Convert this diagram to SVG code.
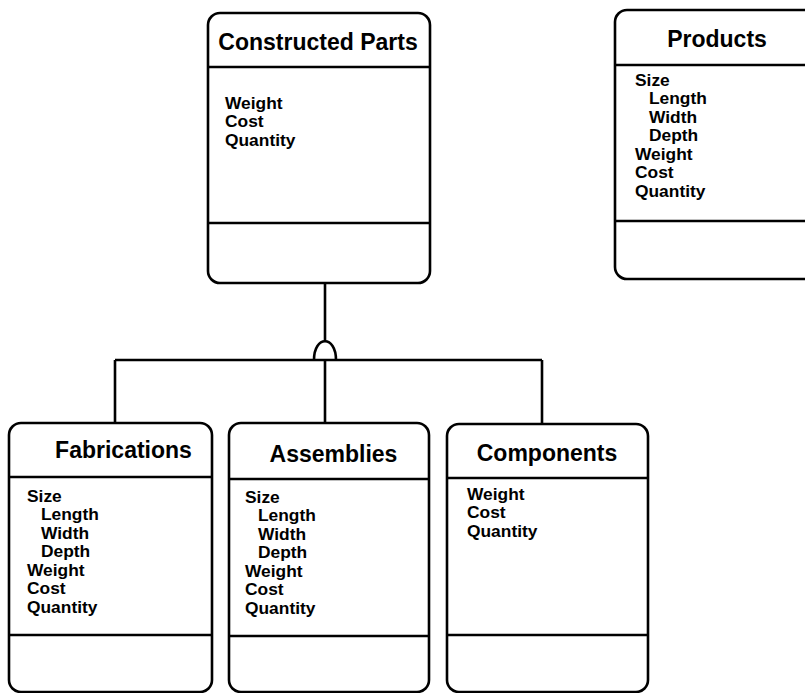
<svg xmlns="http://www.w3.org/2000/svg" width="805" height="693" viewBox="0 0 805 693">
  <style>
    .box { fill: #fff; stroke: #000; stroke-width: 2.6; }
    .div { stroke: #000; stroke-width: 2.6; }
    .conn { fill: none; stroke: #000; stroke-width: 2.6; }
    .title { font-family: "Liberation Sans", Arial, Helvetica, sans-serif; font-weight: bold; font-size: 23px; text-anchor: middle; fill: #000; }
    .attr { font-family: "Liberation Sans", Arial, Helvetica, sans-serif; font-weight: bold; font-size: 15.8px; fill: #000; }
  </style>
  <rect width="805" height="693" fill="#fff"/>

  <!-- generalization connectors -->
  <g id="connectors">
    <line class="conn" x1="325" y1="283" x2="325" y2="341"/>
    <path class="conn" d="M314,360 C314,335 336,335 336,360"/>
    <line class="conn" x1="115" y1="360" x2="542" y2="360"/>
    <line class="conn" x1="115" y1="360" x2="115" y2="423"/>
    <line class="conn" x1="325" y1="360" x2="325" y2="423"/>
    <line class="conn" x1="542" y1="360" x2="542" y2="424"/>
  </g>

  <g id="constructed-parts">
    <rect class="box" x="208" y="13" width="222" height="270" rx="12"/>
    <line class="div" x1="208" y1="67" x2="430" y2="67"/>
    <line class="div" x1="208" y1="223" x2="430" y2="223"/>
    <text class="title" x="318" y="50">Constructed Parts</text>
    <g transform="translate(225,109) scale(1.1,1)">
      <text class="attr" x="0" y="0">Weight</text>
      <text class="attr" x="0" y="18.3">Cost</text>
      <text class="attr" x="0" y="36.6">Quantity</text>
    </g>
  </g>

  <g id="products">
    <rect class="box" x="615" y="10" width="240" height="269" rx="12"/>
    <line class="div" x1="615" y1="65" x2="855" y2="65"/>
    <line class="div" x1="615" y1="221" x2="855" y2="221"/>
    <text class="title" x="717" y="47">Products</text>
    <g transform="translate(635,86) scale(1.1,1)">
      <text class="attr" x="0" y="0">Size</text>
      <text class="attr" x="12.7" y="18.5">Length</text>
      <text class="attr" x="12.7" y="37">Width</text>
      <text class="attr" x="12.7" y="55.5">Depth</text>
      <text class="attr" x="0" y="74">Weight</text>
      <text class="attr" x="0" y="92.5">Cost</text>
      <text class="attr" x="0" y="111">Quantity</text>
    </g>
  </g>

  <g id="fabrications">
    <rect class="box" x="9" y="423" width="203" height="269" rx="12"/>
    <line class="div" x1="9" y1="477" x2="212" y2="477"/>
    <line class="div" x1="9" y1="635" x2="212" y2="635"/>
    <text class="title" x="123.5" y="458">Fabrications</text>
    <g transform="translate(27,502) scale(1.1,1)">
      <text class="attr" x="0" y="0">Size</text>
      <text class="attr" x="12.7" y="18.5">Length</text>
      <text class="attr" x="12.7" y="37">Width</text>
      <text class="attr" x="12.7" y="55.5">Depth</text>
      <text class="attr" x="0" y="74">Weight</text>
      <text class="attr" x="0" y="92.5">Cost</text>
      <text class="attr" x="0" y="111">Quantity</text>
    </g>
  </g>

  <g id="assemblies">
    <rect class="box" x="229" y="423" width="200" height="269" rx="12"/>
    <line class="div" x1="229" y1="479" x2="429" y2="479"/>
    <line class="div" x1="229" y1="636" x2="429" y2="636"/>
    <text class="title" x="333.5" y="462">Assemblies</text>
    <g transform="translate(245,503) scale(1.1,1)">
      <text class="attr" x="0" y="0">Size</text>
      <text class="attr" x="11.8" y="18.5">Length</text>
      <text class="attr" x="11.8" y="37">Width</text>
      <text class="attr" x="11.8" y="55.5">Depth</text>
      <text class="attr" x="0" y="74">Weight</text>
      <text class="attr" x="0" y="92.5">Cost</text>
      <text class="attr" x="0" y="111">Quantity</text>
    </g>
  </g>

  <g id="components">
    <rect class="box" x="447" y="424" width="201" height="268" rx="12"/>
    <line class="div" x1="447" y1="478" x2="648" y2="478"/>
    <line class="div" x1="447" y1="635" x2="648" y2="635"/>
    <text class="title" x="547" y="461">Components</text>
    <g transform="translate(467,500) scale(1.1,1)">
      <text class="attr" x="0" y="0">Weight</text>
      <text class="attr" x="0" y="18.5">Cost</text>
      <text class="attr" x="0" y="37">Quantity</text>
    </g>
  </g>
</svg>
